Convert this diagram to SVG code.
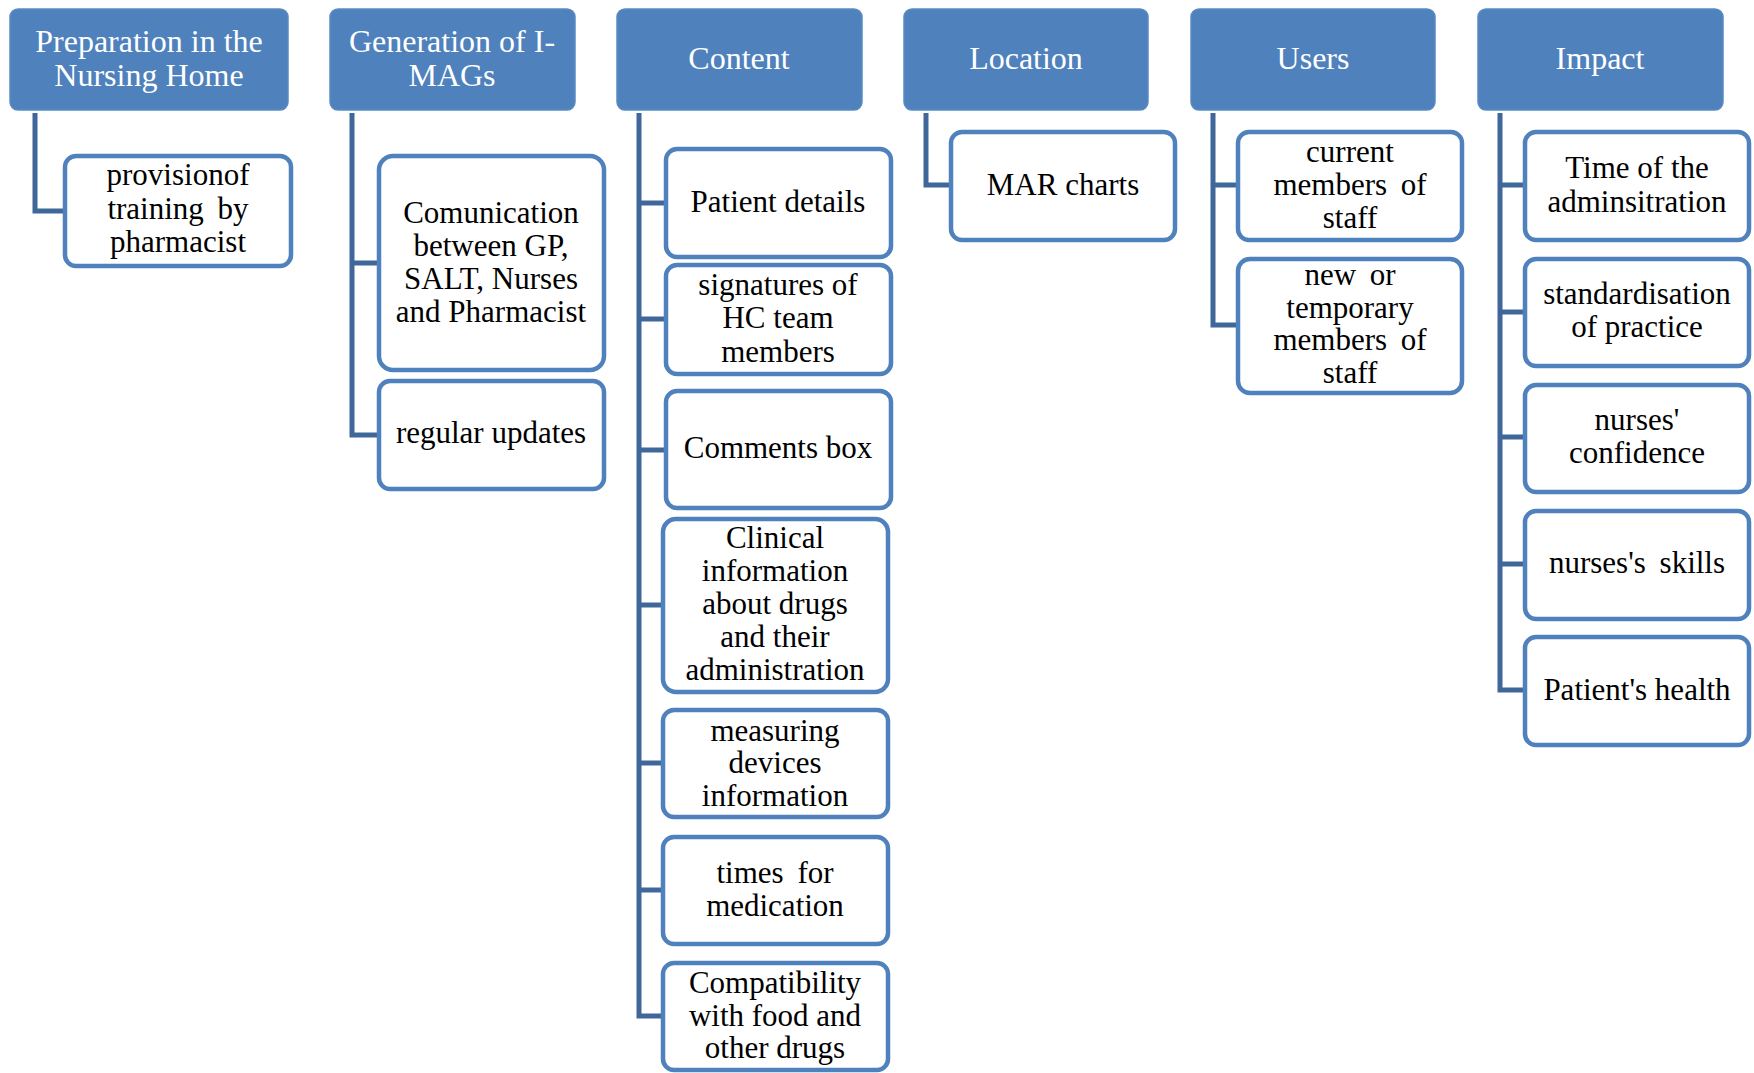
<svg xmlns="http://www.w3.org/2000/svg" width="1754" height="1073" viewBox="0 0 1754 1073">
  <style>
    .head rect { fill: #4f81bd; stroke: #5a8ac4; stroke-width: 1.5; }
    .head text { fill: #ffffff; font-family: "Liberation Serif", "Times New Roman", serif; font-size: 32px; text-anchor: middle; }
    .leaf rect { fill: #ffffff; stroke: #4f81bd; stroke-width: 4.5; }
    .leaf text { fill: #000000; font-family: "Liberation Serif", "Times New Roman", serif; font-size: 31px; text-anchor: middle; }
    .leaf text.wide { word-spacing: 6px; }
    .links path { fill: none; stroke: #3f6799; stroke-width: 5; stroke-linejoin: miter; }
  </style>

  <!-- connectors: elbow lines from each heading down to its items -->
  <g id="connectors" class="links">
    <path d="M35,113 V211 H65"/>
    <path d="M352,113 V435 H379"/>
    <path d="M352,263 H379"/>
    <path d="M639,113 V1016 H663"/>
    <path d="M639,203 H666"/>
    <path d="M639,319 H666"/>
    <path d="M639,450 H666"/>
    <path d="M639,605 H663"/>
    <path d="M639,763 H663"/>
    <path d="M639,890 H663"/>
    <path d="M926,113 V185 H951"/>
    <path d="M1213,113 V325 H1238"/>
    <path d="M1213,185 H1238"/>
    <path d="M1500,113 V690 H1525"/>
    <path d="M1500,185 H1525"/>
    <path d="M1500,312 H1525"/>
    <path d="M1500,437 H1525"/>
    <path d="M1500,564 H1525"/>
  </g>

  <!-- headings -->
  <g id="h-preparation" class="head">
    <rect x="10" y="9" width="278" height="101" rx="8"/>
    <text x="149" y="52">Preparation in the</text>
    <text x="149" y="86">Nursing Home</text>
  </g>
  <g id="h-generation" class="head">
    <rect x="330" y="9" width="245" height="101" rx="8"/>
    <text x="452" y="52">Generation of I-</text>
    <text x="452" y="86">MAGs</text>
  </g>
  <g id="h-content" class="head">
    <rect x="617" y="9" width="245" height="101" rx="8"/>
    <text x="739" y="69">Content</text>
  </g>
  <g id="h-location" class="head">
    <rect x="904" y="9" width="244" height="101" rx="8"/>
    <text x="1026" y="69">Location</text>
  </g>
  <g id="h-users" class="head">
    <rect x="1191" y="9" width="244" height="101" rx="8"/>
    <text x="1313" y="69">Users</text>
  </g>
  <g id="h-impact" class="head">
    <rect x="1478" y="9" width="245" height="101" rx="8"/>
    <text x="1600" y="69">Impact</text>
  </g>

  <!-- Preparation items -->
  <g id="n-training" class="leaf">
    <rect x="65" y="156" width="226" height="110" rx="11"/>
    <text x="178" y="185">provisionof</text>
    <text x="178" y="219" class="wide">training by</text>
    <text x="178" y="252">pharmacist</text>
  </g>

  <!-- Generation items -->
  <g id="n-communication" class="leaf">
    <rect x="379" y="156" width="225" height="214" rx="14"/>
    <text x="491" y="223">Comunication</text>
    <text x="491" y="256">between GP,</text>
    <text x="491" y="289">SALT, Nurses</text>
    <text x="491" y="322">and Pharmacist</text>
  </g>
  <g id="n-updates" class="leaf">
    <rect x="379" y="381" width="225" height="108" rx="11"/>
    <text x="491" y="443">regular updates</text>
  </g>

  <!-- Content items -->
  <g id="n-patient" class="leaf">
    <rect x="666" y="149" width="225" height="108" rx="11"/>
    <text x="778" y="212">Patient details</text>
  </g>
  <g id="n-signatures" class="leaf">
    <rect x="666" y="265" width="225" height="109" rx="11"/>
    <text x="778" y="295">signatures of</text>
    <text x="778" y="328">HC team</text>
    <text x="778" y="362">members</text>
  </g>
  <g id="n-comments" class="leaf">
    <rect x="666" y="391" width="225" height="117" rx="11"/>
    <text x="778" y="458">Comments box</text>
  </g>
  <g id="n-clinical" class="leaf">
    <rect x="663" y="519" width="225" height="173" rx="13"/>
    <text x="775" y="548">Clinical</text>
    <text x="775" y="581">information</text>
    <text x="775" y="614">about drugs</text>
    <text x="775" y="647">and their</text>
    <text x="775" y="680">administration</text>
  </g>
  <g id="n-measuring" class="leaf">
    <rect x="663" y="710" width="225" height="107" rx="11"/>
    <text x="775" y="741">measuring</text>
    <text x="775" y="773">devices</text>
    <text x="775" y="806">information</text>
  </g>
  <g id="n-times" class="leaf">
    <rect x="663" y="837" width="225" height="107" rx="11"/>
    <text x="775" y="883" class="wide">times for</text>
    <text x="775" y="916">medication</text>
  </g>
  <g id="n-compat" class="leaf">
    <rect x="663" y="963" width="225" height="107" rx="11"/>
    <text x="775" y="993">Compatibility</text>
    <text x="775" y="1026">with food and</text>
    <text x="775" y="1058">other drugs</text>
  </g>

  <!-- Location items -->
  <g id="n-mar" class="leaf">
    <rect x="951" y="132" width="224" height="108" rx="11"/>
    <text x="1063" y="195">MAR charts</text>
  </g>

  <!-- Users items -->
  <g id="n-current" class="leaf">
    <rect x="1238" y="132" width="224" height="108" rx="11"/>
    <text x="1350" y="162">current</text>
    <text x="1350" y="195" class="wide">members of</text>
    <text x="1350" y="228">staff</text>
  </g>
  <g id="n-new" class="leaf">
    <rect x="1238" y="259" width="224" height="134" rx="12"/>
    <text x="1350" y="285" class="wide">new or</text>
    <text x="1350" y="318">temporary</text>
    <text x="1350" y="350" class="wide">members of</text>
    <text x="1350" y="383">staff</text>
  </g>

  <!-- Impact items -->
  <g id="n-time" class="leaf">
    <rect x="1525" y="132" width="224" height="108" rx="11"/>
    <text x="1637" y="178">Time of the</text>
    <text x="1637" y="212">adminsitration</text>
  </g>
  <g id="n-standard" class="leaf">
    <rect x="1525" y="259" width="224" height="107" rx="11"/>
    <text x="1637" y="304">standardisation</text>
    <text x="1637" y="337">of practice</text>
  </g>
  <g id="n-confidence" class="leaf">
    <rect x="1525" y="385" width="224" height="107" rx="11"/>
    <text x="1637" y="430">nurses'</text>
    <text x="1637" y="463">confidence</text>
  </g>
  <g id="n-skills" class="leaf">
    <rect x="1525" y="511" width="224" height="108" rx="11"/>
    <text x="1637" y="573" class="wide">nurses's skills</text>
  </g>
  <g id="n-health" class="leaf">
    <rect x="1525" y="637" width="224" height="108" rx="11"/>
    <text x="1637" y="700">Patient's health</text>
  </g>
</svg>
